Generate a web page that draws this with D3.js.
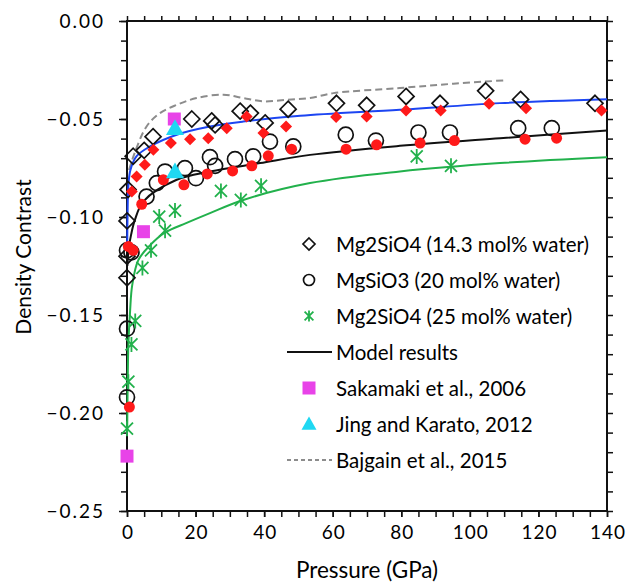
<!DOCTYPE html>
<html>
<head>
<meta charset="utf-8">
<title>Density Contrast</title>
<script src="https://cdnjs.cloudflare.com/ajax/libs/d3/7.8.5/d3.min.js"></script>
<style>
  html, body { margin: 0; padding: 0; background: #fff; overflow: hidden; }
  svg { display: block; }
  text { font-family: Lato, "Open Sans", sans-serif; fill: #000; }
  .model { fill: none; stroke-width: 2px; }
</style>
</head>
<body>
<div id="canvas"></div>
<script>
  /*
  Data: [pressure GPa, density contrast]
  */
  var diamondsOpen = [[0,-0.131],[0,-0.120],[0,-0.102],[0.3,-0.086],[1.8,-0.069],[5,-0.066],[7.6,-0.059],
    [18.9,-0.050],[24.7,-0.051],[25.7,-0.053],[33,-0.046],[36,-0.047],[40.3,-0.052],[47,-0.045],
    [61.1,-0.042],[69.9,-0.043],[81.4,-0.0385],[91.3,-0.042],[104.6,-0.0356],[114.8,-0.040],[136.5,-0.042]];
  var circlesOpen = [[0,-0.192],[0,-0.157],[0,-0.117],[1.3,-0.118],[5.7,-0.0896],[8.7,-0.0827],[11.1,-0.0768],
    [16.9,-0.0751],[20.1,-0.0802],[24.2,-0.0695],[25.7,-0.0739],[31.5,-0.0705],[36.8,-0.0691],
    [41.7,-0.0615],[48.5,-0.064],[63.8,-0.058],[72.6,-0.061],[85,-0.0569],[94.2,-0.0569],[114.1,-0.0547],[123.9,-0.0547]];
  var stars = [[0,-0.208],[0.4,-0.184],[1.3,-0.165],[2.4,-0.153],[4.5,-0.126],[7,-0.117],[9.4,-0.0998],
    [11.1,-0.107],[14,-0.0967],[27.4,-0.0867],[33.2,-0.0913],[39.1,-0.0841],[84.5,-0.0691],[94.5,-0.0739]];
  var redDiamonds = [[1.4,-0.087],[2.8,-0.0794],[5.2,-0.0734],[7.7,-0.0657],[12.8,-0.0623],[18.4,-0.0603],
    [23.7,-0.0598],[29.1,-0.0547],[34.9,-0.0487],[39.8,-0.0572],[46.4,-0.0538],[61,-0.049],[69.9,-0.0487],
    [81.4,-0.0457],[91.5,-0.0457],[105.6,-0.0422],[116.4,-0.0445],[138.4,-0.0457]];
  var redCircles = [[0.4,-0.115],[1.8,-0.117],[0.7,-0.197],[4.3,-0.0935],[10.6,-0.081],[16.6,-0.0836],
    [23.4,-0.078],[30.8,-0.0765],[36.4,-0.0739],[41.2,-0.0688],[48,-0.0654],[63.9,-0.0654],[72.8,-0.0632],
    [85.5,-0.0623],[95.5,-0.061],[116.1,-0.0603],[125.3,-0.0598]];
  var sakamaki = [[0,-0.222],[4.8,-0.1075],[13.8,-0.050]];
  var jingKarato = [[14,-0.0547],[14,-0.0768]];

  var modelBlue = [[0.05,-0.117],[0.15,-0.100],[0.4,-0.084],[1,-0.076],[2.8,-0.069],[6.7,-0.064],[14.5,-0.058],
    [24.2,-0.0538],[33.9,-0.0513],[50.5,-0.0484],[79.6,-0.0453],[108.8,-0.0419],[140,-0.0399]];
  var modelBlack = [[0.1,-0.125],[0.5,-0.116],[1.2,-0.109],[2.3,-0.1015],[4.8,-0.092],[14.5,-0.081],
    [24.2,-0.0768],[38.8,-0.0725],[53.4,-0.0683],[79.6,-0.0637],[108.8,-0.0598],[140,-0.0559]];
  var modelGreen = [[0.05,-0.21],[0.2,-0.185],[0.4,-0.165],[0.9,-0.148],[1.5,-0.135],[3.3,-0.122],
    [6.7,-0.1145],[11,-0.108],[17.4,-0.103],[24.2,-0.098],[33.9,-0.0913],[53.4,-0.0827],[79.6,-0.0768],
    [108.8,-0.0725],[140,-0.0695]];
  var bajgain = [[0.6,-0.076],[2.3,-0.067],[5.7,-0.0538],[9.6,-0.047],[14.5,-0.0428],[20.3,-0.0393],
    [28.1,-0.0376],[33.9,-0.0393],[39.8,-0.041],[46.6,-0.0402],[53.4,-0.0393],[60.2,-0.0368],
    [79.6,-0.0342],[95.2,-0.032],[109.8,-0.0303]];

  var xTicks = [0, 20, 40, 60, 80, 100, 120, 140];
  var yTicks = [0, -0.05, -0.10, -0.15, -0.20, -0.25];
  var legendLabels = ["Mg2SiO4 (14.3 mol% water)", "MgSiO3 (20 mol% water)", "Mg2SiO4 (25 mol% water)",
    "Model results", "Sakamaki et al., 2006", "Jing and Karato, 2012", "Bajgain et al., 2015"];

  /*
  Layout
  */
  var outerWidth = 626, outerHeight = 585,
    margin = { left: 127, top: 21, right: 19, bottom: 74 },
    innerWidth = outerWidth - margin.left - margin.right,
    innerHeight = outerHeight - margin.top - margin.bottom;

  var green = "#22b14c", red = "#ff1a1a", blue = "#1c45f2", magenta = "#e843e8", cyan = "#1fd8f2";

  var x = d3.scaleLinear().domain([0, 140]).range([0, innerWidth]);
  var y = d3.scaleLinear().domain([-0.25, 0]).range([innerHeight, 0]);

  var svg = d3.select("#canvas").append("svg")
    .attr("width", outerWidth).attr("height", outerHeight);
  var g = svg.append("g").attr("transform", "translate(" + margin.left + "," + margin.top + ")");

  /*
  Axes: labelled left and bottom, ticks only on top and right
  */
  function styleAxis(sel) {
    sel.select(".domain").remove();
    sel.selectAll("line").attr("stroke", "#111").attr("stroke-width", 1.5);
  }
  var hundredths = d3.range(0, 26).map(function (i) { return -i / 100; });
  g.append("g").call(d3.axisLeft(y).tickValues(hundredths).tickSize(6).tickFormat("")).call(styleAxis);
  g.append("g").call(d3.axisLeft(y).tickValues(yTicks).tickSize(8).tickPadding(0)
    .tickFormat(d3.format(".2f"))).call(styleAxis)
    .selectAll("text")
    .attr("font-size", 19).attr("letter-spacing", 2).attr("x", -22);
  g.append("g").attr("transform", "translate(" + innerWidth + ",0)")
    .call(d3.axisRight(y).tickValues(hundredths).tickSize(6).tickFormat("")).call(styleAxis);
  g.append("g").call(d3.axisTop(x).tickValues(d3.range(0, 141, 5)).tickSize(5).tickFormat("")).call(styleAxis);
  g.append("g").attr("transform", "translate(0," + innerHeight + ")")
    .call(d3.axisBottom(x).tickValues(d3.range(0, 141, 5)).tickSize(6).tickFormat("")).call(styleAxis);
  g.append("g").attr("transform", "translate(0," + innerHeight + ")")
    .call(d3.axisBottom(x).tickValues(xTicks).tickSize(6).tickPadding(9)).call(styleAxis)
    .selectAll("text")
    .attr("font-size", 19).attr("letter-spacing", 1).attr("dx", 0.5);

  g.append("rect").attr("width", innerWidth).attr("height", innerHeight)
    .attr("fill", "none").attr("stroke", "#111").attr("stroke-width", 2);

  svg.append("text").attr("transform", "translate(22," + (margin.top + 236) + ") rotate(-90)")
    .attr("text-anchor", "middle").attr("dominant-baseline", "central")
    .attr("font-size", 21).text("Density Contrast");
  svg.append("text").attr("x", 367).attr("y", 569)
    .attr("text-anchor", "middle").attr("dominant-baseline", "central")
    .attr("font-size", 22.5).text("Pressure (GPa)");

  /*
  Lines
  */
  var line = d3.line().x(function (d) { return x(d[0]); }).y(function (d) { return y(d[1]); })
    .curve(d3.curveCatmullRom.alpha(0.5));
  g.append("path").datum(bajgain).attr("class", "model").attr("d", line)
    .attr("stroke", "#8c8c8c").attr("stroke-width", 3).attr("stroke-dasharray", "7,4");
  g.append("path").datum(modelGreen).attr("class", "model").attr("d", line).attr("stroke", green);
  g.append("path").datum(modelBlack).attr("class", "model").attr("d", line).attr("stroke", "#111");
  g.append("path").datum(modelBlue).attr("class", "model").attr("d", line).attr("stroke", blue);

  /*
  Marker shapes
  */
  function diamond(r) { return "M0," + (-r) + "L" + r + ",0L0," + r + "L" + (-r) + ",0Z"; }
  function star(r) {
    var k = r * 0.8;
    return "M0," + (-r) + "V" + r + "M" + (-k) + "," + (-k) + "L" + k + "," + k + "M" + (-k) + "," + k + "L" + k + "," + (-k);
  }
  function square(r) { return "M" + (-r) + "," + (-r) + "h" + 2 * r + "v" + 2 * r + "h" + (-2 * r) + "Z"; }
  function triangle(r) { return "M0," + (-r) + "L" + r + "," + r * 0.75 + "L" + (-r) + "," + r * 0.75 + "Z"; }
  function circle(r) { return d3.symbol(d3.symbolCircle, Math.PI * r * r)(); }

  var styles = {
    openDiamond: { d: diamond(8), fill: "none", stroke: "#111", sw: 1.7 },
    openCircle: { d: circle(7.5), fill: "none", stroke: "#111", sw: 1.7 },
    star: { d: star(7.5), fill: "none", stroke: green, sw: 1.8 },
    redDiamond: { d: diamond(6), fill: red, stroke: "none", sw: 0 },
    redCircle: { d: circle(5.5), fill: red, stroke: "none", sw: 0 },
    square: { d: square(6.5), fill: magenta, stroke: "none", sw: 0 },
    triangle: { d: triangle(9), fill: cyan, stroke: "none", sw: 0 }
  };

  function drawPoints(data, st) {
    g.append("g").selectAll("path").data(data).enter().append("path")
      .attr("transform", function (d) { return "translate(" + x(d[0]) + "," + y(d[1]) + ")"; })
      .attr("d", st.d).attr("fill", st.fill).attr("stroke", st.stroke).attr("stroke-width", st.sw);
  }
  drawPoints(diamondsOpen, styles.openDiamond);
  drawPoints(circlesOpen, styles.openCircle);
  drawPoints(stars, styles.star);
  drawPoints(redDiamonds, styles.redDiamond);
  drawPoints(redCircles, styles.redCircle);
  drawPoints(sakamaki, styles.square);
  drawPoints(jingKarato, styles.triangle);

  /*
  Legend
  */
  var legendKeys = [
    { d: diamond(6), st: styles.openDiamond },
    { d: circle(5.5), st: styles.openCircle },
    { d: star(5.5), st: styles.star },
    "solid",
    { d: square(6.5), st: styles.square },
    { d: triangle(7.5), st: styles.triangle },
    "dashed"];
  var leg = svg.append("g").attr("transform", "translate(309,244)");
  legendLabels.forEach(function (label, i) {
    var row = leg.append("g").attr("transform", "translate(0," + i * 36 + ")");
    var key = legendKeys[i];
    if (key === "solid") {
      row.append("line").attr("x1", -22).attr("x2", 23).attr("stroke", "#111").attr("stroke-width", 2);
    } else if (key === "dashed") {
      row.append("line").attr("x1", -22).attr("x2", 23).attr("stroke", "#8c8c8c")
        .attr("stroke-width", 2).attr("stroke-dasharray", "4,3");
    } else {
      row.append("path").attr("d", key.d)
        .attr("fill", key.st.fill).attr("stroke", key.st.stroke).attr("stroke-width", key.st.sw);
    }
    row.append("text").attr("x", 27).attr("dominant-baseline", "central")
      .attr("font-size", 20.5).text(label);
  });
</script>
</body>
</html>
